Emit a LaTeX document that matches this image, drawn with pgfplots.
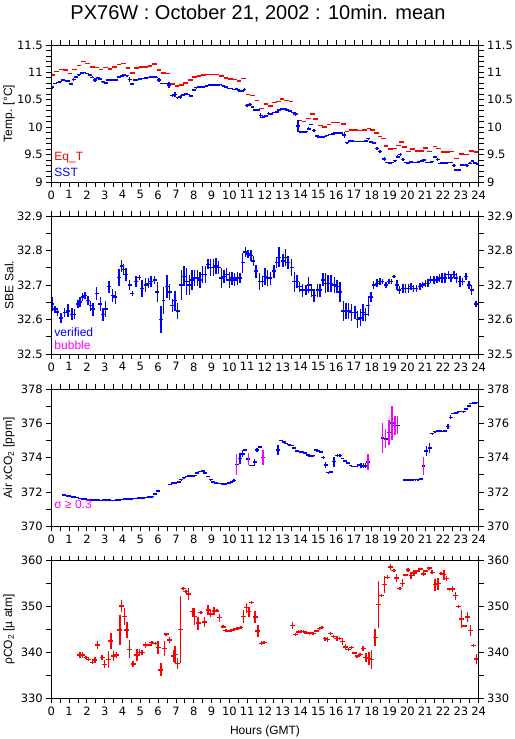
\documentclass[border=0pt]{standalone}
\usepackage{fontspec}
\setmainfont{Liberation Sans}
\newfontfamily\tickfont{DejaVu Sans}
\usepackage{pgfplots}
\pgfplotsset{compat=1.18}
\definecolor{pblue}{RGB}{0,0,255}
\definecolor{pred}{RGB}{255,0,0}
\definecolor{pmag}{RGB}{255,0,255}
\pgfplotsset{
  panel/.style={
    scale only axis, width=427.4bp, anchor=south west,
    xmin=0, xmax=24, xtick={0,1,...,24}, minor x tick num=1,
    tick align=outside, major tick length=5bp, minor tick length=5bp,
    axis line style={line width=0.9bp},
    tick style={line width=0.9bp, black},
    ticklabel style={font=\fontsize{11.5bp}{13bp}\tickfont},
    /pgf/number format/assume math mode=true,
    /pgf/number format/fixed,
    every axis y label/.style={at={(axis description cs:-0.099,0.5)}, rotate=90, anchor=center, font=\fontsize{12bp}{14bp}\selectfont},
  },
  nomark/.style={only marks, mark=*, mark size=0pt, mark options={draw=none, fill=none}, forget plot},
  cross/.style n args={3}{nomark,
    error bars/.cd, x dir=both, x fixed=#1, y dir=both, y explicit, error mark=none,
    error bar style={line width=#2, color=#3}},
  hbar/.style n args={3}{nomark,
    error bars/.cd, x dir=both, x fixed=#1, y dir=none, error mark=none,
    error bar style={line width=#2, color=#3}},
  vbar/.style n args={2}{nomark,
    error bars/.cd, x dir=none, y dir=both, y explicit, error mark=none,
    error bar style={line width=#1, color=#2}},
}
\newcommand{\lab}{\fontsize{12bp}{14bp}\selectfont}
\begin{document}
\begin{tikzpicture}
\path[use as bounding box] (0,0) rectangle (515bp,739bp);
\node[font=\fontsize{20bp}{24bp}\selectfont] at (258bp,725bp) {PX76W : October 21, 2002 : 10min. mean};

% ---------------- Panel 1: temperature
\begin{axis}[panel, at={(51.3bp,557bp)}, height=137bp, ymin=9, ymax=11.5,
  ytick={9,9.5,10,10.5,11,11.5}, minor y tick num=4, ylabel={Temp. [°C]}]
\addplot[hbar={0.13}{1.5bp}{pred}] table[x index=0, y index=1, row sep=\\] {
0.05 10.95\\ 0.3 11.02\\ 0.55 11.05\\ 0.8 11.04\\ 1.05 10.98\\ 1.3 11.05\\ 1.55 11.13\\ 1.8 11.20\\
2.05 11.16\\ 2.3 11.10\\ 2.55 11.09\\ 2.8 11.05\\ 3.05 11.09\\ 3.3 11.06\\ 3.55 11.10\\ 3.8 11.14\\
4.05 11.16\\ 4.3 11.08\\ 4.55 10.99\\ 4.8 11.08\\ 5.05 11.10\\ 5.3 11.10\\ 5.55 11.12\\ 5.8 11.15\\
6.05 11.04\\ 6.3 10.99\\ 6.55 10.98\\ 6.8 10.79\\ 7.05 10.75\\ 7.3 10.77\\ 7.55 10.81\\ 7.8 10.86\\
8.05 10.92\\ 8.3 10.93\\ 8.55 10.95\\ 8.8 10.96\\ 9.05 10.96\\ 9.3 10.96\\ 9.55 10.93\\ 9.8 10.90\\
10.05 10.88\\ 10.3 10.87\\ 10.55 10.84\\ 10.8 10.89\\ 11.05 10.60\\ 11.3 10.58\\ 11.55 10.49\\ 11.8 10.34\\
12.05 10.42\\ 12.3 10.39\\ 12.55 10.45\\ 12.75 10.47\\ 12.95 10.51\\ 13.2 10.49\\ 13.45 10.47\\ 13.7 10.24\\
13.95 10.12\\ 14.2 10.10\\ 14.45 10.16\\ 14.65 10.24\\ 14.85 10.15\\ 15.1 10.03\\ 15.35 10.00\\ 15.6 10.05\\
15.85 10.09\\ 16.1 10.09\\ 16.4 10.06\\ 16.6 9.92\\ 16.85 9.95\\ 17.1 9.95\\ 17.35 9.94\\ 17.6 9.95\\
17.85 9.98\\ 18.05 9.95\\ 18.25 9.89\\ 18.45 9.83\\ 18.65 9.79\\ 18.8 9.66\\ 19.05 9.60\\ 19.3 9.61\\
19.5 9.67\\ 19.65 9.73\\ 19.85 9.64\\ 20.05 9.56\\ 20.3 9.60\\ 20.55 9.57\\ 20.8 9.57\\ 21.0 9.62\\
21.25 9.56\\ 21.55 9.65\\ 21.75 9.61\\ 22.0 9.55\\ 22.25 9.55\\ 22.5 9.56\\ 22.75 9.43\\ 23.05 9.51\\
23.3 9.50\\ 23.6 9.57\\ 23.85 9.55\\
};
\addplot[cross={0.11}{1.5bp}{pblue}] table[x index=0, y index=1, y error index=2, row sep=\\] {
0.05 10.73 0.03\\ 0.2 10.80 0.01\\ 0.35 10.82 0.01\\ 0.5 10.83 0.01\\ 0.65 10.86 0.01\\ 0.8 10.85 0.01\\
0.95 10.84 0.01\\ 1.1 10.79 0.02\\ 1.25 10.87 0.02\\ 1.4 10.92 0.01\\ 1.55 10.96 0.01\\ 1.7 10.99 0.01\\
1.85 11.00 0.01\\ 2.0 10.98 0.01\\ 2.15 10.95 0.01\\ 2.3 10.91 0.02\\ 2.45 10.86 0.04\\ 2.6 10.90 0.02\\
2.75 10.88 0.01\\ 2.9 10.83 0.01\\ 3.05 10.81 0.02\\ 3.2 10.86 0.02\\ 3.35 10.87 0.01\\ 3.5 10.86 0.01\\
3.65 10.86 0.01\\ 3.8 10.92 0.01\\ 3.95 10.93 0.01\\ 4.1 10.95 0.01\\ 4.25 10.94 0.01\\ 4.4 10.87 0.05\\
4.55 10.79 0.02\\ 4.7 10.86 0.01\\ 4.85 10.87 0.01\\ 5.0 10.88 0.01\\ 5.15 10.89 0.01\\ 5.3 10.90 0.01\\
5.45 10.91 0.01\\ 5.6 10.92 0.01\\ 5.75 10.92 0.01\\ 5.9 10.91 0.02\\ 6.05 10.86 0.03\\ 6.2 10.80 0.01\\
6.35 10.80 0.01\\ 6.5 10.80 0.01\\ 6.6 10.77 0.06\\ 6.8 10.58 0.02\\ 6.95 10.60 0.04\\ 7.1 10.54 0.02\\
7.25 10.55 0.03\\ 7.4 10.59 0.02\\ 7.55 10.61 0.02\\ 7.7 10.60 0.01\\ 7.85 10.57 0.02\\ 8.0 10.68 0.02\\
8.15 10.72 0.01\\ 8.3 10.74 0.01\\ 8.45 10.73 0.01\\ 8.6 10.74 0.01\\ 8.75 10.76 0.01\\ 8.9 10.77 0.01\\
9.05 10.77 0.01\\ 9.2 10.77 0.01\\ 9.35 10.77 0.01\\ 9.5 10.78 0.01\\ 9.65 10.76 0.01\\ 9.8 10.73 0.01\\
9.95 10.71 0.01\\ 10.1 10.71 0.01\\ 10.25 10.69 0.01\\ 10.4 10.70 0.01\\ 10.55 10.67 0.02\\ 10.7 10.66 0.02\\
10.85 10.69 0.03\\ 11.0 10.40 0.03\\ 11.15 10.41 0.03\\ 11.3 10.37 0.02\\ 11.45 10.31 0.01\\ 11.6 10.31 0.01\\
11.75 10.21 0.04\\ 11.9 10.18 0.02\\ 12.05 10.20 0.01\\ 12.2 10.25 0.03\\ 12.35 10.24 0.01\\ 12.5 10.27 0.01\\
12.65 10.28 0.01\\ 12.8 10.31 0.01\\ 12.95 10.34 0.01\\ 13.1 10.33 0.01\\ 13.25 10.31 0.01\\ 13.4 10.30 0.01\\
13.55 10.27 0.01\\ 13.7 10.24 0.03\\ 13.85 10.02 0.11\\ 14.0 9.91 0.01\\ 14.15 9.91 0.01\\ 14.3 9.92 0.01\\
14.45 9.97 0.03\\ 14.6 10.05 0.01\\ 14.75 9.94 0.03\\ 14.9 9.84 0.01\\ 15.05 9.82 0.01\\ 15.2 9.82 0.01\\
15.35 9.83 0.01\\ 15.5 9.85 0.01\\ 15.65 9.87 0.01\\ 15.8 9.88 0.01\\ 15.95 9.89 0.01\\ 16.1 9.90 0.01\\
16.25 9.89 0.01\\ 16.45 9.86 0.05\\ 16.6 9.72 0.01\\ 16.75 9.75 0.01\\ 16.9 9.75 0.01\\ 17.05 9.74 0.01\\
17.2 9.74 0.01\\ 17.35 9.74 0.01\\ 17.5 9.74 0.01\\ 17.65 9.75 0.01\\ 17.8 9.79 0.02\\ 17.95 9.73 0.02\\
18.1 9.71 0.02\\ 18.3 9.61 0.02\\ 18.45 9.56 0.03\\ 18.7 9.42 0.03\\ 18.85 9.36 0.01\\ 19.0 9.35 0.01\\
19.15 9.36 0.01\\ 19.3 9.39 0.01\\ 19.45 9.46 0.03\\ 19.6 9.50 0.02\\ 19.75 9.41 0.02\\ 19.9 9.36 0.01\\
20.05 9.35 0.01\\ 20.2 9.37 0.01\\ 20.35 9.36 0.01\\ 20.5 9.36 0.01\\ 20.65 9.37 0.01\\ 20.8 9.38 0.01\\
20.95 9.40 0.01\\ 21.1 9.36 0.01\\ 21.25 9.36 0.01\\ 21.4 9.37 0.01\\ 21.55 9.46 0.02\\ 21.7 9.41 0.03\\
21.85 9.34 0.02\\ 22.0 9.35 0.01\\ 22.15 9.35 0.01\\ 22.3 9.36 0.01\\ 22.45 9.36 0.01\\ 22.6 9.30 0.03\\
22.75 9.22 0.01\\ 22.9 9.22 0.01\\ 23.05 9.31 0.01\\ 23.2 9.31 0.01\\ 23.35 9.30 0.03\\ 23.5 9.34 0.02\\
23.65 9.38 0.01\\ 23.8 9.35 0.01\\ 23.95 9.33 0.01\\
};
\node[anchor=west, inner sep=0pt, text=pred, font=\lab] at (axis description cs:0.007,0.175) {Eq\_T};
\node[anchor=west, inner sep=0pt, text=pblue, font=\lab] at (axis description cs:0.007,0.073) {SST};
\end{axis}
\begin{axis}[panel, at={(51.3bp,557bp)}, height=137bp, ymin=9, ymax=11.5,
  ytick={9,9.5,10,10.5,11,11.5}, minor y tick num=4, yticklabel pos=right, xticklabels={}]
\end{axis}

% ---------------- Panel 2: salinity
\begin{axis}[panel, at={(51.3bp,385bp)}, height=138bp, ymin=32.5, ymax=32.9,
  ytick={32.5,32.6,32.7,32.8,32.9}, minor y tick num=1, ylabel={SBE Sal.}]
\addplot[cross={0.11}{1.5bp}{pblue}] table[x index=0, y index=1, y error index=2, row sep=\\] {
0.05 32.645 0.019\\ 0.2 32.630 0.010\\ 0.35 32.622 0.012\\ 0.55 32.605 0.014\\ 0.75 32.620 0.014\\
0.95 32.625 0.019\\ 1.15 32.615 0.017\\ 1.3 32.615 0.015\\ 1.5 32.645 0.012\\ 1.6 32.650 0.015\\
1.75 32.665 0.012\\ 1.9 32.670 0.010\\ 2.05 32.655 0.012\\ 2.2 32.640 0.015\\ 2.35 32.630 0.019\\
2.55 32.675 0.019\\ 2.75 32.645 0.019\\ 2.9 32.615 0.019\\ 3.05 32.630 0.024\\ 3.25 32.695 0.017\\
3.45 32.670 0.019\\ 3.6 32.665 0.019\\ 3.8 32.722 0.024\\ 3.95 32.755 0.017\\ 4.05 32.745 0.017\\
4.2 32.730 0.019\\ 4.4 32.700 0.015\\ 4.55 32.675 0.008\\ 4.75 32.710 0.015\\ 4.95 32.722 0.008\\
5.1 32.690 0.024\\ 5.3 32.700 0.019\\ 5.45 32.705 0.015\\ 5.6 32.710 0.015\\ 5.8 32.715 0.012\\
5.95 32.680 0.029\\ 6.15 32.600 0.039\\ 6.3 32.655 0.039\\ 6.5 32.695 0.034\\ 6.65 32.680 0.024\\
6.8 32.640 0.019\\ 6.95 32.655 0.029\\ 7.1 32.625 0.024\\ 7.3 32.700 0.043\\ 7.45 32.725 0.029\\
7.6 32.710 0.039\\ 7.75 32.700 0.029\\ 7.9 32.715 0.029\\ 8.05 32.720 0.024\\ 8.2 32.720 0.024\\
8.35 32.715 0.024\\ 8.5 32.730 0.024\\ 8.65 32.730 0.024\\ 8.8 32.760 0.015\\ 8.95 32.750 0.024\\
9.1 32.750 0.024\\ 9.25 32.755 0.024\\ 9.4 32.750 0.019\\ 9.55 32.720 0.029\\ 9.7 32.725 0.019\\
9.85 32.730 0.019\\ 10.0 32.715 0.024\\ 10.15 32.720 0.019\\ 10.3 32.715 0.019\\ 10.45 32.720 0.019\\
10.6 32.720 0.015\\ 10.75 32.765 0.029\\ 10.9 32.795 0.015\\ 11.05 32.790 0.012\\ 11.2 32.785 0.015\\
11.35 32.770 0.015\\ 11.5 32.740 0.019\\ 11.7 32.710 0.024\\ 11.85 32.710 0.015\\ 12.0 32.725 0.024\\
12.15 32.720 0.024\\ 12.3 32.720 0.019\\ 12.5 32.740 0.019\\ 12.65 32.765 0.015\\ 12.8 32.780 0.029\\
13.0 32.770 0.019\\ 13.15 32.780 0.024\\ 13.3 32.765 0.019\\ 13.5 32.750 0.024\\ 13.65 32.710 0.029\\
13.8 32.710 0.019\\ 13.95 32.695 0.015\\ 14.1 32.685 0.019\\ 14.3 32.685 0.015\\ 14.45 32.700 0.024\\
14.6 32.685 0.019\\ 14.75 32.670 0.019\\ 14.95 32.685 0.019\\ 15.1 32.685 0.019\\ 15.25 32.715 0.019\\
15.4 32.705 0.029\\ 15.55 32.705 0.024\\ 15.7 32.705 0.024\\ 15.9 32.700 0.024\\ 16.05 32.695 0.019\\
16.2 32.680 0.029\\ 16.4 32.625 0.029\\ 16.55 32.625 0.024\\ 16.7 32.625 0.024\\ 16.85 32.620 0.024\\
17.05 32.620 0.019\\ 17.2 32.600 0.024\\ 17.35 32.605 0.024\\ 17.5 32.620 0.024\\ 17.65 32.615 0.019\\
17.8 32.640 0.029\\ 17.95 32.665 0.015\\ 18.1 32.700 0.012\\ 18.3 32.705 0.012\\ 18.45 32.710 0.010\\
18.6 32.710 0.008\\ 18.8 32.700 0.008\\ 18.95 32.710 0.008\\ 19.1 32.710 0.008\\ 19.25 32.725 0.005\\
19.4 32.700 0.015\\ 19.55 32.685 0.012\\ 19.75 32.690 0.012\\ 19.9 32.690 0.012\\ 20.05 32.690 0.012\\
20.2 32.695 0.010\\ 20.35 32.690 0.010\\ 20.5 32.690 0.010\\ 20.7 32.695 0.010\\ 20.85 32.700 0.008\\
21.0 32.705 0.010\\ 21.15 32.705 0.012\\ 21.3 32.715 0.010\\ 21.5 32.715 0.012\\ 21.65 32.715 0.010\\
21.8 32.720 0.012\\ 21.95 32.720 0.015\\ 22.1 32.720 0.015\\ 22.3 32.730 0.012\\ 22.45 32.720 0.012\\
22.6 32.730 0.010\\ 22.75 32.720 0.015\\ 22.95 32.710 0.015\\ 23.1 32.710 0.010\\ 23.3 32.725 0.010\\
23.45 32.700 0.012\\ 23.6 32.685 0.015\\ 23.85 32.645 0.010\\
};
\node[anchor=west, inner sep=0pt, text=pblue, font=\lab] at (axis description cs:0.007,0.16) {verified};
\node[anchor=west, inner sep=0pt, text=pmag, font=\lab] at (axis description cs:0.007,0.065) {bubble};
\end{axis}
\begin{axis}[panel, at={(51.3bp,385bp)}, height=138bp, ymin=32.5, ymax=32.9,
  ytick={32.5,32.6,32.7,32.8,32.9}, minor y tick num=1, yticklabel pos=right, xticklabels={}]
\end{axis}

% ---------------- Panel 3: air xCO2
\begin{axis}[panel, at={(51.3bp,212.5bp)}, height=137.5bp, ymin=370, ymax=378,
  ytick={370,372,374,376,378}, minor y tick num=1, ylabel={Air xCO\textsubscript{2} [ppm]}]
\addplot[cross={0.11}{1.5bp}{pblue}] table[x index=0, y index=1, y error index=2, row sep=\\] {
0.7 371.82 0.02\\ 0.85 371.79 0.02\\ 1.0 371.76 0.02\\ 1.15 371.74 0.02\\ 1.3 371.72 0.02\\ 1.45 371.70 0.02\\
1.6 371.64 0.02\\ 1.75 371.61 0.02\\ 1.9 371.59 0.02\\ 2.05 371.57 0.02\\ 2.2 371.54 0.02\\ 2.35 371.53 0.02\\
2.5 371.53 0.02\\ 2.65 371.53 0.02\\ 2.8 371.52 0.02\\ 2.95 371.53 0.02\\ 3.1 371.53 0.02\\ 3.25 371.53 0.02\\
3.4 371.52 0.02\\ 3.55 371.52 0.02\\ 3.7 371.53 0.02\\ 3.85 371.56 0.02\\ 4.0 371.58 0.02\\ 4.15 371.59 0.02\\
4.3 371.59 0.02\\ 4.45 371.61 0.02\\ 4.6 371.63 0.02\\ 4.75 371.64 0.02\\ 4.9 371.65 0.02\\ 5.05 371.67 0.02\\
5.2 371.68 0.02\\ 5.35 371.70 0.02\\ 5.5 371.72 0.02\\ 5.65 371.74 0.02\\ 5.8 371.90 0.02\\ 5.97 372.07 0.02\\
6.66 372.45 0.02\\ 6.85 372.53 0.02\\ 7.0 372.55 0.02\\ 7.15 372.60 0.02\\ 7.3 372.72 0.02\\ 7.45 372.84 0.02\\
7.6 372.92 0.02\\ 7.75 372.94 0.02\\ 7.9 372.94 0.02\\ 8.05 372.96 0.02\\ 8.2 373.12 0.02\\ 8.35 373.21 0.02\\
8.5 373.22 0.02\\ 8.65 373.12 0.02\\ 8.8 372.92 0.02\\ 8.95 372.72 0.02\\ 9.1 372.58 0.02\\ 9.25 372.54 0.02\\
9.4 372.51 0.02\\ 9.55 372.50 0.02\\ 9.7 372.48 0.02\\ 9.85 372.50 0.02\\ 10.0 372.53 0.02\\ 10.12 372.58 0.02\\
10.25 372.68 0.08\\ 10.41 373.61 0\\ 10.6 373.96 0.30\\ 10.74 374.23 0.20\\ 10.88 374.44 0.04\\ 11.06 373.94 0\\
11.2 373.56 0.03\\ 11.34 373.56 0.03\\ 11.42 373.75 0.18\\ 11.55 374.44 0.12\\ 11.72 374.62 0.04\\ 11.9 374.00 0\\
12.74 374.46 0.29\\ 12.92 375.01 0.02\\ 13.06 374.92 0.02\\ 13.2 374.84 0.02\\ 13.35 374.77 0.02\\ 13.5 374.72 0.02\\
13.65 374.56 0.04\\ 13.8 374.40 0.02\\ 13.95 374.36 0.02\\ 14.1 374.34 0.02\\ 14.25 374.28 0.02\\ 14.4 374.17 0.02\\
14.55 374.09 0.02\\ 14.7 374.12 0.03\\ 14.85 374.45 0.03\\ 15.0 374.38 0.02\\ 15.15 374.32 0.02\\ 15.28 374.00 0.10\\
15.4 373.58 0.18\\ 15.56 373.13 0.03\\ 15.72 373.18 0.04\\ 15.87 373.77 0.29\\ 16.06 374.13 0.10\\ 16.2 374.13 0.10\\
16.35 373.96 0.03\\ 16.5 373.82 0.03\\ 16.65 373.70 0.03\\ 16.8 373.56 0.03\\ 16.95 373.50 0.02\\ 17.1 373.50 0.02\\
17.25 373.57 0.03\\ 17.4 373.55 0.12\\ 17.52 373.53 0.15\\ 17.64 373.53 0.15\\ 17.78 373.75 0\\
18.6 375.16 0\\ 18.78 375.10 0\\ 18.95 375.48 0\\ 19.12 376.02 0\\ 19.29 375.87 0\\ 19.45 375.89 0\\
19.86 372.70 0.02\\ 20.0 372.70 0.02\\ 20.15 372.71 0.02\\ 20.3 372.72 0.02\\ 20.45 372.72 0.02\\ 20.6 372.73 0.02\\
20.75 372.75 0.02\\ 20.9 373.52 0\\ 21.06 374.39 0.29\\ 21.25 374.58 0.29\\ 21.4 375.41 0.05\\ 21.55 375.52 0.03\\
21.7 375.56 0.02\\ 21.85 375.56 0.02\\ 22.0 375.54 0.02\\ 22.12 375.55 0.02\\ 22.27 375.83 0.15\\ 22.42 376.35 0.12\\
22.57 376.58 0.02\\ 22.72 376.60 0.02\\ 22.87 376.68 0.02\\ 23.02 376.70 0.02\\ 23.15 376.68 0.02\\ 23.3 376.83 0.03\\
23.44 377.02 0.03\\ 23.58 377.16 0.02\\ 23.72 377.18 0.02\\ 23.86 377.20 0.02\\
};
\addplot[vbar={1.5bp}{pmag}] table[x index=0, y index=1, y error index=2, row sep=\\] {
10.41 373.61 0.61\\ 11.06 373.94 0.35\\ 11.9 374.00 0.43\\ 17.78 373.75 0.46\\
18.6 375.16 0.89\\ 18.78 375.10 0.56\\ 18.95 375.48 0.72\\ 19.12 376.02 0.98\\ 19.29 375.87 0.56\\ 19.45 375.89 0.52\\
20.9 373.52 0.51\\
};
\node[anchor=west, inner sep=0pt, text=pmag, font=\lab] at (axis description cs:0.007,0.164) {σ ≥ 0.3};
\end{axis}
\begin{axis}[panel, at={(51.3bp,212.5bp)}, height=137.5bp, ymin=370, ymax=378,
  ytick={370,372,374,376,378}, minor y tick num=1, yticklabel pos=right, xticklabels={}]
\end{axis}

% ---------------- Panel 4: pCO2
\begin{axis}[panel, at={(51.3bp,40.7bp)}, height=137.5bp, ymin=330, ymax=360,
  ytick={330,340,350,360}, minor y tick num=1, ylabel={ρCO\textsubscript{2} [µ atm]}]
\addplot[cross={0.14}{1.5bp}{pred}] table[x index=0, y index=1, y error index=2, row sep=\\] {
1.6 339.45 0.6\\ 1.75 339.45 0.6\\ 1.95 338.95 0.3\\ 2.1 338.5 0.4\\ 2.3 337.85 0.4\\ 2.45 338.36 0.7\\
2.6 341.64 0.9\\ 2.85 338.95 0.6\\ 3.0 337.42 0.9\\ 3.2 338.5 1.8\\ 3.35 342.5 1.8\\ 3.5 339.24 1.1\\
3.65 339.45 0.7\\ 3.85 344.9 3.3\\ 3.95 350.1 1.3\\ 4.1 347.8 1.8\\ 4.25 344.9 1.8\\ 4.4 340.7 2.0\\
4.6 337.5 0.6\\ 4.8 339.45 1.4\\ 4.95 340.0 0.7\\ 5.1 340.0 0.6\\ 5.3 341.64 0.6\\ 5.5 341.64 0.3\\
5.65 342.2 0.3\\ 5.85 342.0 0.3\\ 6.0 341.05 1.4\\ 6.15 336.2 1.4\\ 6.35 340.9 1.6\\ 6.45 344.0 0.3\\
6.65 342.7 0.7\\ 6.85 339.24 1.4\\ 6.95 339.6 1.8\\ 7.1 337.6 1.1\\ 7.25 345.05 7.3\\ 7.4 354.0 0.3\\
7.55 353.3 0.3\\ 7.7 352.8 1.3\\ 7.95 348.9 0.9\\ 8.05 347.8 1.8\\ 8.25 346.4 1.4\\ 8.4 348.7 0.3\\
8.6 346.7 1.1\\ 8.8 349.3 1.1\\ 8.95 348.4 0.7\\ 9.15 349.1 0.9\\ 9.3 349.1 0.3\\ 9.45 347.6 0.9\\
9.65 345.6 0.3\\ 9.8 344.8 0.3\\ 10.0 344.7 0.3\\ 10.15 344.9 0.3\\ 10.35 345.1 0.3\\ 10.5 345.3 0.3\\
10.65 345.5 0.3\\ 10.8 347.8 1.4\\ 10.95 349.8 1.1\\ 11.1 348.9 1.1\\ 11.25 350.9 0.3\\ 11.45 347.7 1.3\\
11.6 344.7 1.3\\ 11.8 342.0 0.4\\ 11.95 342.2 0.3\\ 13.55 345.9 0.8\\ 13.72 343.9 0.3\\ 13.87 344.5 0.3\\
14.02 344.6 0.3\\ 14.17 344.6 0.3\\ 14.32 344.3 0.3\\ 14.5 344.2 0.3\\ 14.7 344.1 0.3\\ 14.9 344.7 0.3\\
15.05 345.2 0.3\\ 15.2 345.4 0.3\\ 15.37 343.0 0.4\\ 15.52 342.8 0.6\\ 15.67 344.1 0.3\\ 15.84 343.5 0.4\\
16.03 343.0 0.5\\ 16.18 343.1 0.3\\ 16.35 342.4 0.7\\ 16.52 341.2 0.6\\ 16.69 340.7 0.3\\ 16.86 341.1 0.3\\
17.02 339.9 0.3\\ 17.17 339.2 0.3\\ 17.34 339.6 0.3\\ 17.51 340.9 0.6\\ 17.66 338.9 0.9\\ 17.83 338.7 1.4\\
17.99 338.5 2.0\\ 18.18 343.3 1.8\\ 18.36 350.5 5.1\\ 18.55 352.4 0.4\\ 18.7 354.8 1.8\\ 18.89 356.4 0.4\\
19.05 358.6 0.6\\ 19.24 357.9 0.3\\ 19.39 356.2 0.9\\ 19.58 354.0 0.3\\ 19.73 355.1 0.9\\ 19.88 356.9 0.3\\
20.03 358.0 0.4\\ 20.2 356.8 0.7\\ 20.37 357.3 0.7\\ 20.56 357.8 0.3\\ 20.73 358.2 0.3\\ 20.89 357.1 0.4\\
21.04 357.8 0.3\\ 21.21 358.4 0.3\\ 21.38 357.5 0.4\\ 21.55 354.8 1.3\\ 21.72 355.0 1.3\\ 21.89 357.2 0.3\\
22.05 357.0 1.1\\ 22.2 356.1 0.6\\ 22.35 353.8 0.3\\ 22.54 353.9 0.7\\ 22.71 352.4 0.9\\ 22.86 350.0 0.3\\
23.04 347.3 2.0\\ 23.21 345.8 0.3\\ 23.38 347.7 1.1\\ 23.55 344.8 1.3\\ 23.72 341.5 0.3\\ 23.88 338.6 1.1\\
};
\end{axis}
\begin{axis}[panel, at={(51.3bp,40.7bp)}, height=137.5bp, ymin=330, ymax=360,
  ytick={330,340,350,360}, minor y tick num=1, yticklabel pos=right, xticklabels={}]
\end{axis}
\node[font=\lab] at (265bp,7.3bp) {Hours (GMT)};
\end{tikzpicture}
\end{document}
